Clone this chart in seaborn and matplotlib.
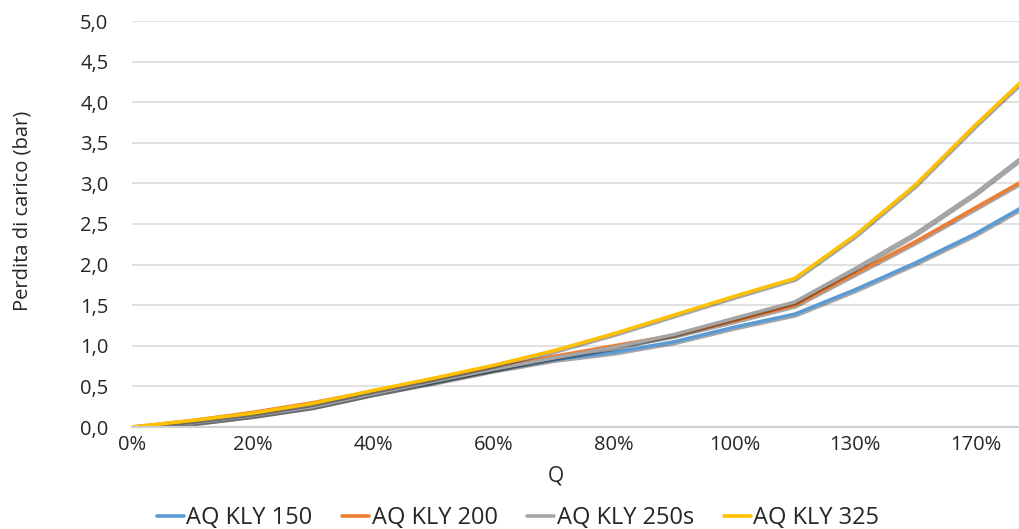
import matplotlib
matplotlib.use("Agg")
import matplotlib.pyplot as plt
import matplotlib.patheffects as pe
from matplotlib.ticker import FuncFormatter
import pandas as pd
import seaborn as sns

# Flow rate categories (as % of nominal) and head loss in bar
q_labels = ["0%", "10%", "20%", "30%", "40%", "50%", "60%", "70%", "80%",
            "90%", "100%", "115%", "130%", "150%", "170%", "190%"]
kly_150 = [0, 0.05, 0.14, 0.25, 0.41, 0.55, 0.70, 0.83, 0.92, 1.05, 1.23,
           1.39, 1.69, 2.02, 2.38, 2.80]
kly_200 = [0, 0.08, 0.18, 0.30, 0.44, 0.57, 0.72, 0.87, 1.00, 1.13, 1.31,
           1.50, 1.89, 2.28, 2.70, 3.12]
kly_250s = [0, 0.05, 0.14, 0.25, 0.41, 0.56, 0.71, 0.85, 0.98, 1.14, 1.34,
            1.54, 1.95, 2.38, 2.88, 3.45]
kly_325 = [0, 0.08, 0.17, 0.29, 0.45, 0.60, 0.76, 0.94, 1.15, 1.38, 1.61,
           1.83, 2.36, 2.98, 3.72, 4.42]

series_names = ["AQ KLY 150", "AQ KLY 200", "AQ KLY 250s", "AQ KLY 325"]
colors = ["#5B9BD5", "#ED7D31", "#A5A5A5", "#FFC000"]

rows = []
for name, vals in zip(series_names, [kly_150, kly_200, kly_250s, kly_325]):
    for i, v in enumerate(vals):
        rows.append({"pos": i, "Q": q_labels[i], "serie": name, "bar": v})
df = pd.DataFrame(rows)

sns.set_theme(style="white")
plt.rcParams["font.family"] = ["Open Sans", "DejaVu Sans"]

fig = plt.figure(figsize=(10.2, 5.29), dpi=100)
ax = fig.add_axes([132 / 1020, 1 - 427 / 529, 888 / 1020, 406 / 529])

sns.lineplot(data=df, x="pos", y="bar", hue="serie", hue_order=series_names,
             palette=colors, linewidth=2.5, sort=False, ax=ax, legend=True)

# excel-like soft drop shadow under each line
shadow = [pe.SimpleLineShadow(offset=(0.8, -1.2), shadow_color="black", alpha=0.35),
          pe.Normal()]
for line in ax.lines:
    line.set_path_effects(shadow)
    line.set_solid_joinstyle("round")

ax.set_xlim(0, 14.74)
ax.set_ylim(0, 5)
ax.set_yticks([i * 0.5 for i in range(11)])
ax.yaxis.set_major_formatter(FuncFormatter(lambda v, p: f"{v:.1f}".replace(".", ",")))
ax.set_xticks(range(0, len(q_labels), 2))
ax.set_xticklabels(q_labels[::2])
ax.tick_params(axis="both", length=0, labelsize=14.5, colors="#262626")
ax.tick_params(axis="y", pad=17)
ax.tick_params(axis="x", pad=6)

ax.grid(axis="y", color="#D9D9D9", linewidth=1.1)
ax.set_axisbelow(True)
for s in ["top", "right", "left"]:
    ax.spines[s].set_visible(False)
ax.spines["bottom"].set_color("#D0D0D0")
ax.spines["bottom"].set_linewidth(1.6)

ax.set_xlabel("Q", fontsize=15, color="#262626")
ax.xaxis.label.set_va("center")
ax.xaxis.set_label_coords((556 - 132) / 888, (427 - 476) / 406)
ax.set_ylabel("Perdita di carico (bar)", fontsize=14.5, color="#262626")
ax.yaxis.label.set_va("center")
ax.yaxis.set_label_coords((22 - 132) / 888, (427 - 211) / 406)

handles, labels = ax.get_legend_handles_labels()
ax.get_legend().remove()
for h in handles:
    h.set_path_effects([])
    h.set_linewidth(2.6)
fig.legend(handles, labels, loc="center", bbox_to_anchor=(518 / 1020, 1 - 518 / 529),
           ncol=4, frameon=False, fontsize=17, handlelength=1.15,
           handletextpad=0.1, columnspacing=1.25, labelcolor="#262626")

fig.savefig("out.png", dpi=100)
